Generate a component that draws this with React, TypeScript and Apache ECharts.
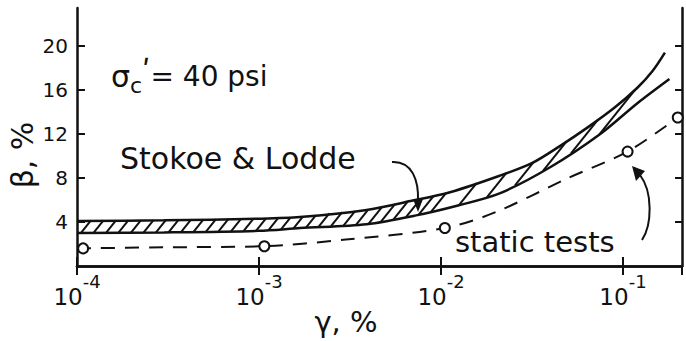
import React, { useEffect, useRef } from "react";
import * as echarts from "echarts";

// Stokoe & Lodde band: upper and lower bounds (gamma %, beta %)
const upperX = [1e-4, 3e-4, 1e-3, 0.00168, 0.0039, 0.0068, 0.0112, 0.021, 0.032, 0.045, 0.064, 0.09, 0.12, 0.145, 0.17];
const upperY = [4.1, 4.15, 4.3, 4.45, 5.1, 5.9, 6.7, 8.2, 9.4, 10.9, 12.6, 14.4, 16.2, 17.7, 19.4];
const lowerX = [1e-4, 3e-4, 1e-3, 0.00168, 0.0039, 0.0073, 0.0124, 0.021, 0.04, 0.075, 0.12, 0.18];
const lowerY = [3.0, 3.05, 3.2, 3.45, 3.8, 4.6, 5.5, 6.6, 9.0, 12.0, 14.8, 17.0];
// static tests: dashed trend and measured points
const staticLineX = [1e-4, 3e-4, 1.07e-3, 3e-3, 1.05e-2, 0.02, 0.05, 0.106, 0.2];
const staticLineY = [1.6, 1.7, 1.8, 2.4, 3.45, 4.9, 8.0, 10.4, 13.5];
const staticPtsX = [1.08e-4, 1.07e-3, 1.05e-2, 0.106, 0.2];
const staticPtsY = [1.6, 1.8, 3.45, 10.4, 13.5];
// axis ticks
const yTickValues = [4, 8, 12, 16, 20];
const xMin = 1e-4;
const xMax = 0.211;
const yMin = 0;
const yMax = 23.45;

const INK = "#111";
const FONT = "'DejaVu Sans', sans-serif";

function zip(xs: number[], ys: number[]) {
  return xs.map((x, i) => [x, ys[i]]);
}

export default function App() {
  const ref = useRef<HTMLDivElement>(null);
  useEffect(() => {
    document.body.style.margin = "0";
    if (!ref.current) return;
    const chart = echarts.init(ref.current, null, { renderer: "svg" });

    const xLabelFmt = (v: number) => {
      const l = Math.log10(v);
      const e = Math.round(l);
      if (Math.abs(l - e) > 0.01) return "";
      return `{b|10}{s|-${-e}}`;
    };

    const hatchRender = (params: any, api: any) => {
      const top = upperX.map((x, i) => api.coord([x, upperY[i]]));
      const bot = lowerX.map((x, i) => api.coord([x, lowerY[i]]));
      const interp = (arr: number[][], px: number) => {
        if (px <= arr[0][0]) return arr[0][1];
        for (let i = 1; i < arr.length; i++) {
          if (px <= arr[i][0]) {
            const t = (px - arr[i - 1][0]) / (arr[i][0] - arr[i - 1][0]);
            return arr[i - 1][1] + t * (arr[i][1] - arr[i - 1][1]);
          }
        }
        return NaN;
      };
      const children: any[] = [];
      const endX = Math.min(top[top.length - 1][0], bot[bot.length - 1][0]);
      let xb = top[0][0] + 4;
      while (xb < endX - 6) {
        const yb = interp(bot, xb);
        let t = 0;
        let xe = xb;
        let ye = yb;
        let ok = false;
        while (t < 70) {
          xe = xb + 0.8 * t;
          ye = yb - t;
          const yt = interp(top, xe);
          if (isNaN(yt)) break;
          if (ye <= yt) {
            ok = true;
            break;
          }
          t += 0.5;
        }
        if (ok) {
          children.push({
            type: "line",
            shape: { x1: xb, y1: yb, x2: xe, y2: ye },
            style: { stroke: INK, lineWidth: 2 },
          });
        }
        xb += xb < 430 ? 12.5 : 28;
      }
      return { type: "group", children };
    };

    chart.setOption({
      animation: false,
      backgroundColor: "#fff",
      grid: { left: 77, right: 4, top: 8, bottom: 75, containLabel: false },
      xAxis: [
        {
          type: "log",
          logBase: 10,
          min: xMin,
          max: xMax,
          position: "bottom",
          axisLine: { show: true, lineStyle: { color: INK, width: 2.5 } },
          axisTick: { show: true, inside: true, length: 9, lineStyle: { color: INK, width: 2 } },
          splitLine: { show: false },
          minorTick: { show: false },
          axisLabel: {
            show: true,
            showMaxLabel: false,
            margin: 6,
            formatter: xLabelFmt,
            rich: {
              b: { fontFamily: FONT, fontSize: 23, color: INK, lineHeight: 36, verticalAlign: "bottom" },
              s: { fontFamily: FONT, fontSize: 18, color: INK, verticalAlign: "top", lineHeight: 30 },
            },
          },
        },
        {
          type: "log",
          logBase: 10,
          min: xMin,
          max: xMax,
          position: "top",
          axisLine: { show: true, lineStyle: { color: INK, width: 2.5 } },
          axisTick: { show: true, inside: true, length: 9, lineStyle: { color: INK, width: 2 } },
          axisLabel: { show: false },
          splitLine: { show: false },
        },
      ],
      yAxis: [
        {
          type: "value",
          min: yMin,
          max: yMax,
          position: "left",
          axisLine: { show: true, lineStyle: { color: INK, width: 2.5 } },
          axisTick: { show: true, inside: true, length: 8, customValues: yTickValues, lineStyle: { color: INK, width: 2 } },
          axisLabel: {
            show: true,
            customValues: yTickValues,
            margin: 9,
            fontFamily: FONT,
            fontSize: 20,
            color: INK,
          },
          splitLine: { show: false },
        },
        {
          type: "value",
          min: yMin,
          max: yMax,
          position: "right",
          axisLine: { show: true, lineStyle: { color: INK, width: 2.5 } },
          axisTick: { show: true, inside: true, length: 7, customValues: yTickValues, lineStyle: { color: INK, width: 2 } },
          axisLabel: { show: false },
          splitLine: { show: false },
        },
      ],
      series: [
        {
          type: "line",
          name: "Stokoe & Lodde upper",
          data: zip(upperX, upperY),
          smooth: 0.3,
          showSymbol: false,
          lineStyle: { color: INK, width: 2.5 },
          z: 3,
        },
        {
          type: "line",
          name: "Stokoe & Lodde lower",
          data: zip(lowerX, lowerY),
          smooth: 0.3,
          showSymbol: false,
          lineStyle: { color: INK, width: 2.5 },
          z: 3,
        },
        {
          type: "custom",
          name: "hatch",
          data: [[1e-3, 4]],
          encode: { x: 0, y: 1 },
          renderItem: hatchRender,
          z: 2,
          silent: true,
        },
        {
          type: "line",
          name: "static tests line",
          data: zip(staticLineX, staticLineY),
          smooth: 0.3,
          showSymbol: false,
          lineStyle: { color: INK, width: 2, type: [14, 10] },
          z: 2,
        },
        {
          type: "scatter",
          name: "static tests",
          data: zip(staticPtsX, staticPtsY),
          symbol: "circle",
          symbolSize: 10,
          itemStyle: { color: "#fff", borderColor: INK, borderWidth: 2, opacity: 1 },
          z: 4,
        },
      ],
      graphic: [
        {
          type: "text",
          x: 111,
          y: 76,
          style: {
            text: "{s|σ}{c|c}{p|ʹ}{t|= 40 psi}",
            verticalAlign: "middle",
            rich: {
              s: { fontFamily: FONT, fontSize: 30, fill: INK, lineHeight: 40, verticalAlign: "middle" },
              c: { fontFamily: FONT, fontSize: 22, fill: INK, lineHeight: 18, verticalAlign: "bottom" },
              p: { fontFamily: FONT, fontSize: 30, fill: INK, lineHeight: 12, verticalAlign: "top" },
              t: { fontFamily: FONT, fontSize: 28, fill: INK, lineHeight: 40, verticalAlign: "middle" },
            },
          },
        },
        {
          type: "text",
          x: 120,
          y: 158,
          style: { text: "Stokoe & Lodde", font: `30px ${FONT}`, fill: INK, verticalAlign: "middle" },
        },
        {
          type: "bezierCurve",
          shape: { x1: 392, y1: 162, cpx1: 412, cpy1: 161, cpx2: 419, cpy2: 180, x2: 418, y2: 202 },
          style: { stroke: INK, lineWidth: 2, fill: "none" },
        },
        { type: "polygon", shape: { points: [[413, 199], [423, 199], [418, 212]] }, style: { fill: INK } },
        {
          type: "text",
          x: 455,
          y: 242,
          style: { text: "static tests", font: `29px ${FONT}`, fill: INK, verticalAlign: "middle" },
        },
        {
          type: "bezierCurve",
          shape: { x1: 642, y1: 240, cpx1: 652, cpy1: 225, cpx2: 653, cpy2: 192, x2: 640, y2: 175 },
          style: { stroke: INK, lineWidth: 2, fill: "none" },
        },
        { type: "polygon", shape: { points: [[632, 166], [645, 171], [636, 181]] }, style: { fill: INK } },
        {
          type: "text",
          x: 22,
          y: 155,
          rotation: Math.PI / 2,
          style: { text: "β, %", font: `30px ${FONT}`, fill: INK, align: "center", verticalAlign: "middle" },
        },
        {
          type: "text",
          x: 346,
          y: 322,
          style: { text: "γ, %", font: `29px ${FONT}`, fill: INK, align: "center", verticalAlign: "middle" },
        },
      ],
    });
    return () => chart.dispose();
  }, []);
  return <div ref={ref} style={{ width: 686, height: 341 }} />;
}
